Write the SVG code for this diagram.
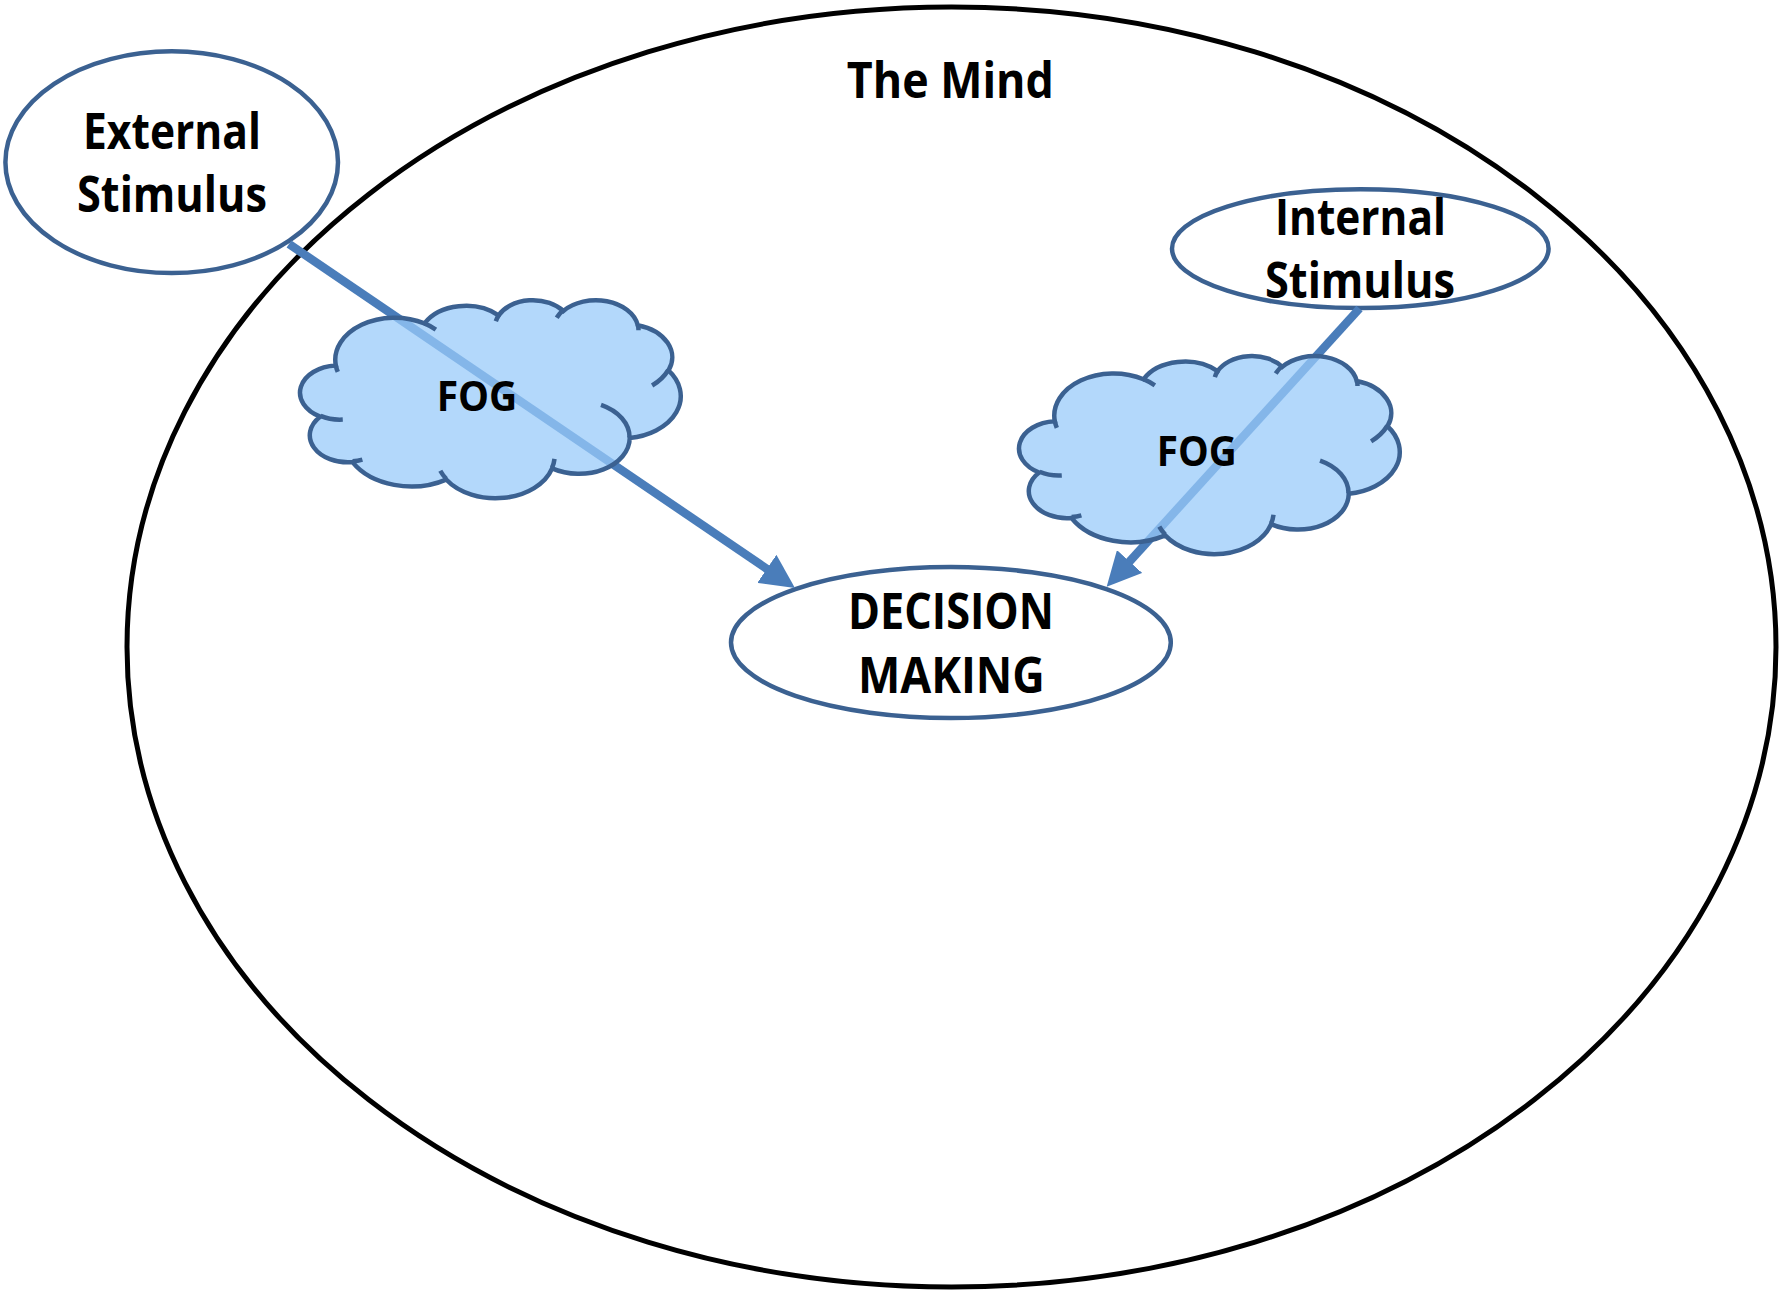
<svg xmlns="http://www.w3.org/2000/svg" xmlns:xlink="http://www.w3.org/1999/xlink" width="1787" height="1290" viewBox="0 0 1787 1290">
  <style>
    .node { fill: #ffffff; stroke: #3b6191; stroke-width: 4.5; }
    .mind { fill: none; stroke: #000000; stroke-width: 5; }
    .conn { stroke: #4a7dba; stroke-width: 8.5; fill: none; stroke-linecap: butt; }
    .cloudFill { fill: #99caf9; fill-opacity: 0.74; stroke: #3b6191; stroke-width: 4.5; stroke-linejoin: miter; }
    .cloudTick { fill: none; stroke: #3b6191; stroke-width: 4.5; }
    .lbl { font-family: "Open Sans", "Noto Sans", "Liberation Sans", sans-serif; font-weight: 700; fill: #000000; text-anchor: middle; }
    .big { font-size: 50px; }
    .fog { font-size: 42px; }
  </style>
  <defs>
    <marker id="arrowHead" markerUnits="userSpaceOnUse" viewBox="0 0 34 34" markerWidth="34" markerHeight="34" refX="17" refY="17" orient="auto">
      <path d="M0,0 L34,17 L0,34 Z" fill="#4a7dba"/>
    </marker>
    <g id="cloudShape">
      <path class="cloudFill" d="M 34.22 65.86 A 59.24 42.12 0 0 1 122.85 23.83 A 46.79 33.31 0 0 1 197.00 15.74 A 38.29 27.25 0 0 1 261.73 11.38 A 42.61 30.23 0 0 1 336.17 25.57 A 46.79 33.33 0 0 1 366.88 70.87 A 59.44 42.26 0 0 1 328.15 138.43 A 50.75 36.06 0 0 1 250.51 168.73 A 59.24 42.23 0 0 1 144.58 179.96 A 67.73 48.32 0 0 1 50.92 162.57 A 38.25 27.12 0 0 1 18.54 117.09 A 38.12 27.25 0 0 1 34.22 65.86 Z"/>
      <path class="cloudTick" d="M 41.17 119.98 A 38.12 27.25 0 0 1 18.94 116.32 M 60.78 159.95 A 38.25 27.12 0 0 1 51.05 161.70 M 144.56 179.16 A 59.24 42.23 0 0 1 138.70 171.18 M 252.90 159.27 A 59.24 42.23 0 0 1 250.56 168.03 M 299.42 105.21 A 50.75 36.06 0 0 1 327.94 137.91 M 366.70 70.37 A 59.44 42.26 0 0 1 350.53 85.92 M 336.22 24.87 A 42.61 30.23 0 0 1 336.89 30.66 M 255.10 18.11 A 42.61 30.23 0 0 1 261.61 10.73 M 194.25 21.63 A 38.29 27.25 0 0 1 197.39 15.26 M 122.82 23.80 A 59.24 42.12 0 0 1 134.26 30.00 M 36.21 72.37 A 59.24 42.12 0 0 1 34.22 65.86"/>
    </g>
  </defs>

  <rect x="0" y="0" width="1787" height="1290" fill="#ffffff"/>

  <g id="the-mind">
    <ellipse class="mind" cx="951.5" cy="647" rx="824.5" ry="640"/>
    <text class="lbl big" x="950.3" y="97.7" textLength="207" lengthAdjust="spacingAndGlyphs">The Mind</text>
  </g>

  <g id="external-stimulus">
    <ellipse class="node" cx="171.7" cy="162.2" rx="166.3" ry="110.9"/>
  </g>

  <g id="internal-stimulus">
    <ellipse class="node" cx="1360.3" cy="248.7" rx="188.3" ry="59.4"/>
  </g>

  <g id="decision-making">
    <ellipse class="node" cx="950.9" cy="642.5" rx="219.9" ry="75.5"/>
  </g>

  <g id="connectors">
    <line class="conn" x1="289" y1="244" x2="780.9" y2="578.4" marker-end="url(#arrowHead)"/>
    <line class="conn" x1="1359.5" y1="308.5" x2="1118.1" y2="574.1" marker-end="url(#arrowHead)"/>
  </g>

  <g id="fog-left">
    <use xlink:href="#cloudShape" href="#cloudShape" transform="translate(301.6 299.6)"/>
    <text class="lbl fog" x="477" y="411" textLength="80.7" lengthAdjust="spacingAndGlyphs">FOG</text>
  </g>

  <g id="fog-right">
    <use xlink:href="#cloudShape" href="#cloudShape" transform="translate(1020.6 355.4)"/>
    <text class="lbl fog" x="1196.7" y="465.7" textLength="80" lengthAdjust="spacingAndGlyphs">FOG</text>
  </g>

  <g id="labels">
    <text class="lbl big" x="172" y="149" textLength="178" lengthAdjust="spacingAndGlyphs">External</text>
    <text class="lbl big" x="172" y="212" textLength="190" lengthAdjust="spacingAndGlyphs">Stimulus</text>
    <text class="lbl big" x="1360.5" y="235" textLength="171" lengthAdjust="spacingAndGlyphs">Internal</text>
    <text class="lbl big" x="1360" y="298.3" textLength="190" lengthAdjust="spacingAndGlyphs">Stimulus</text>
    <text class="lbl big" x="951" y="629" textLength="206" lengthAdjust="spacingAndGlyphs">DECISION</text>
    <text class="lbl big" x="951.4" y="692.7" textLength="187" lengthAdjust="spacingAndGlyphs">MAKING</text>
  </g>
</svg>
